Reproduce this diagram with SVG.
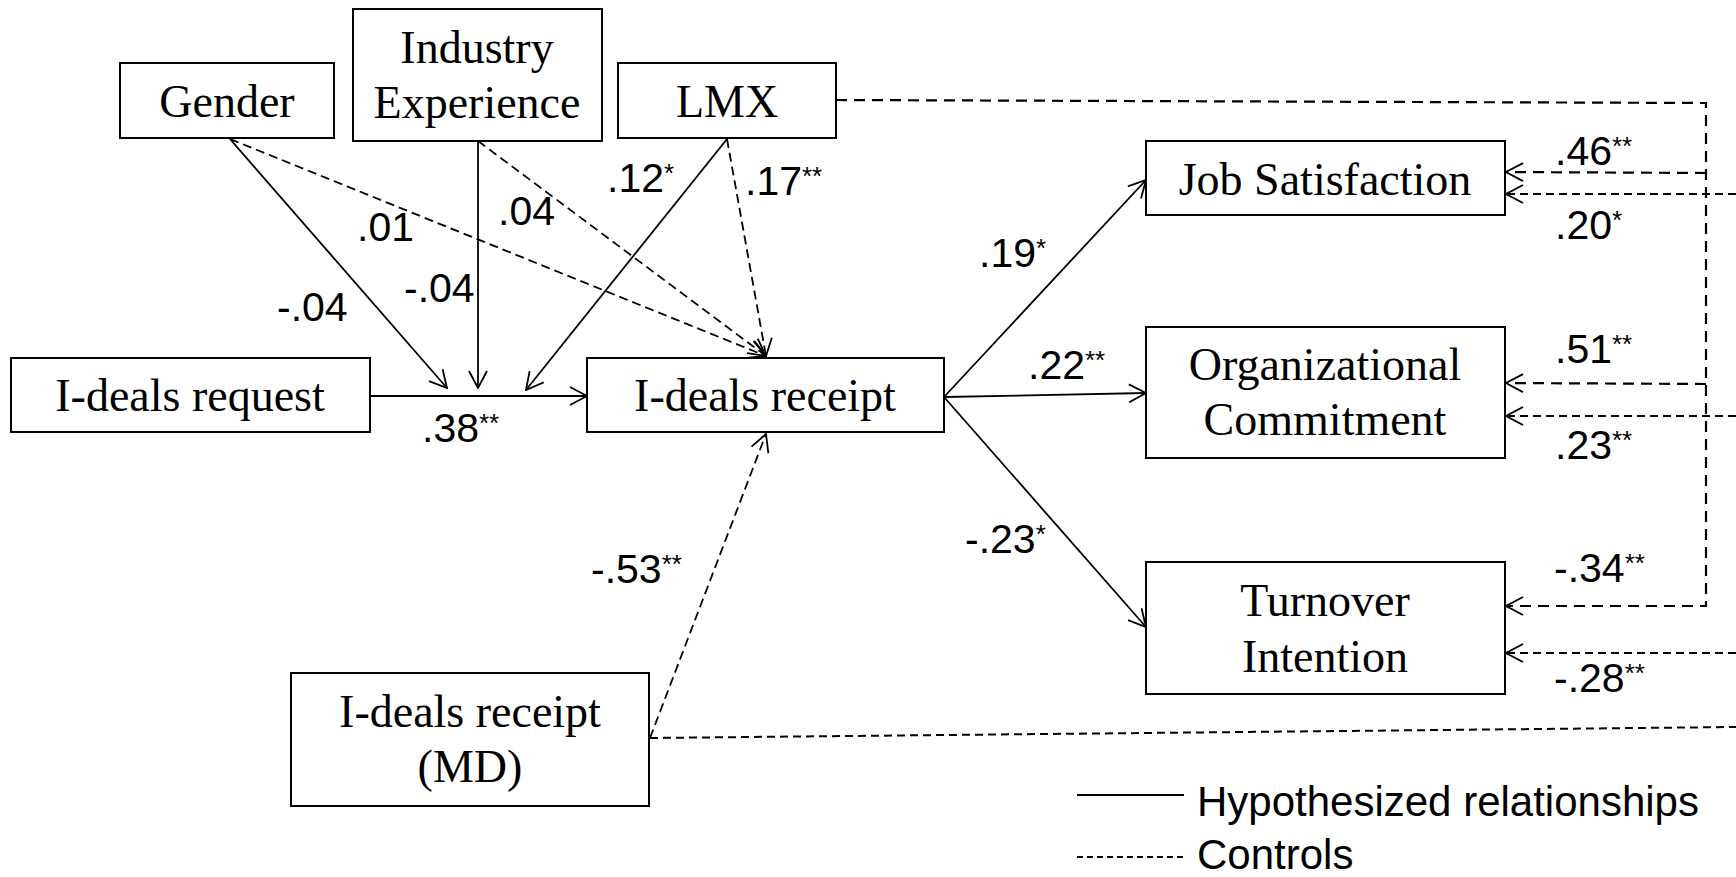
<svg xmlns="http://www.w3.org/2000/svg" width="1736" height="877" viewBox="0 0 1736 877">
<style>
.box{fill:#fff;stroke:#000;stroke-width:2}
.nt{font-family:"Liberation Serif","Times New Roman",serif;font-size:46px;fill:#000;text-anchor:middle}
.lb{font-family:"Liberation Sans",Arial,sans-serif;font-size:41px;fill:#000}
.st{font-size:26px}
.lg{font-family:"Liberation Sans",Arial,sans-serif;font-size:42px;fill:#000}
.s{fill:none;stroke:#000;stroke-width:1.8}
.d1{fill:none;stroke:#000;stroke-width:1.8;stroke-dasharray:9 5}
.d2{fill:none;stroke:#000;stroke-width:2.2;stroke-dasharray:11 7}
.d3{fill:none;stroke:#000;stroke-width:2;stroke-dasharray:8 5}
</style>
<defs>
<marker id="ah" viewBox="0 0 20 20" refX="19" refY="10" markerWidth="20" markerHeight="20" markerUnits="userSpaceOnUse" orient="auto">
<path d="M2,1 L19,10 L2,19" fill="none" stroke="#000" stroke-width="1.8"/>
</marker>
</defs>
<rect width="1736" height="877" fill="#fff"/>
<g id="connectors">
<line class="s" x1="370" y1="396" x2="587" y2="396" marker-end="url(#ah)"/>
<line class="s" x1="230" y1="139" x2="447" y2="388" marker-end="url(#ah)"/>
<line class="s" x1="478" y1="141" x2="478" y2="388" marker-end="url(#ah)"/>
<line class="s" x1="727" y1="139" x2="526" y2="390" marker-end="url(#ah)"/>
<line class="d1" x1="230" y1="139" x2="766" y2="356" marker-end="url(#ah)"/>
<line class="d1" x1="478" y1="141" x2="766" y2="356" marker-end="url(#ah)"/>
<line class="d1" x1="727" y1="139" x2="766" y2="356" marker-end="url(#ah)"/>
<line class="d1" x1="650" y1="738" x2="766" y2="434" marker-end="url(#ah)"/>
<line class="s" x1="944" y1="397" x2="1146" y2="180" marker-end="url(#ah)"/>
<line class="s" x1="944" y1="397" x2="1146" y2="393" marker-end="url(#ah)"/>
<line class="s" x1="944" y1="397" x2="1146" y2="627" marker-end="url(#ah)"/>
<path class="d2" d="M836,100 L1706,103 L1706,606 L1506,606" marker-end="url(#ah)"/>
<path class="d2" d="M1706,173 L1506,172" marker-end="url(#ah)"/>
<path class="d2" d="M1706,384 L1506,383" marker-end="url(#ah)"/>
<line class="d3" x1="1736" y1="194" x2="1506" y2="194" marker-end="url(#ah)"/>
<line class="d3" x1="1736" y1="416" x2="1506" y2="416" marker-end="url(#ah)"/>
<line class="d3" x1="1736" y1="653" x2="1506" y2="653" marker-end="url(#ah)"/>
<line class="d3" x1="650" y1="738" x2="1736" y2="727"/>
</g>
<g id="gender"><rect class="box" x="120" y="63" width="214" height="75"/><text class="nt" x="227" y="117">Gender</text></g>
<g id="industry"><rect class="box" x="353" y="9" width="249" height="132"/><text class="nt" x="477" y="63">Industry</text><text class="nt" x="477" y="118">Experience</text></g>
<g id="lmx"><rect class="box" x="618" y="63" width="218" height="75"/><text class="nt" x="727" y="117">LMX</text></g>
<g id="request"><rect class="box" x="11" y="358" width="359" height="74"/><text class="nt" x="190" y="411">I-deals request</text></g>
<g id="receipt"><rect class="box" x="587" y="358" width="357" height="74"/><text class="nt" x="765" y="411">I-deals receipt</text></g>
<g id="md"><rect class="box" x="291" y="673" width="358" height="133"/><text class="nt" x="470" y="727">I-deals receipt</text><text class="nt" x="470" y="782">(MD)</text></g>
<g id="jobsat"><rect class="box" x="1146" y="141" width="359" height="74"/><text class="nt" x="1325" y="195">Job Satisfaction</text></g>
<g id="orgcom"><rect class="box" x="1146" y="327" width="359" height="131"/><text class="nt" x="1325" y="380">Organizational</text><text class="nt" x="1325" y="435">Commitment</text></g>
<g id="turnover"><rect class="box" x="1146" y="562" width="359" height="132"/><text class="nt" x="1325" y="616">Turnover</text><text class="nt" x="1325" y="672">Intention</text></g>
<g id="labels">
<text class="lb" x="357" y="241">.01</text>
<text class="lb" x="498" y="225">.04</text>
<text class="lb" x="277" y="321">-.04</text>
<text class="lb" x="404" y="302">-.04</text>
<text class="lb" x="607" y="192">.12<tspan class="st" dy="-10">*</tspan></text>
<text class="lb" x="745" y="195">.17<tspan class="st" dy="-10">**</tspan></text>
<text class="lb" x="422" y="442">.38<tspan class="st" dy="-10">**</tspan></text>
<text class="lb" x="979" y="267">.19<tspan class="st" dy="-10">*</tspan></text>
<text class="lb" x="1028" y="379">.22<tspan class="st" dy="-10">**</tspan></text>
<text class="lb" x="965" y="553">-.23<tspan class="st" dy="-10">*</tspan></text>
<text class="lb" x="591" y="583">-.53<tspan class="st" dy="-10">**</tspan></text>
<text class="lb" x="1555" y="165">.46<tspan class="st" dy="-10">**</tspan></text>
<text class="lb" x="1555" y="239">.20<tspan class="st" dy="-10">*</tspan></text>
<text class="lb" x="1555" y="363">.51<tspan class="st" dy="-10">**</tspan></text>
<text class="lb" x="1555" y="459">.23<tspan class="st" dy="-10">**</tspan></text>
<text class="lb" x="1554" y="582">-.34<tspan class="st" dy="-10">**</tspan></text>
<text class="lb" x="1554" y="692">-.28<tspan class="st" dy="-10">**</tspan></text>
</g>
<g id="legend">
<line x1="1077" y1="795" x2="1184" y2="795" stroke="#000" stroke-width="1.8"/>
<text class="lg" x="1197" y="816">Hypothesized relationships</text>
<line x1="1077" y1="857" x2="1184" y2="857" stroke="#000" stroke-width="1.8" stroke-dasharray="6 4"/>
<text class="lg" x="1197" y="869">Controls</text>
</g>
</svg>
